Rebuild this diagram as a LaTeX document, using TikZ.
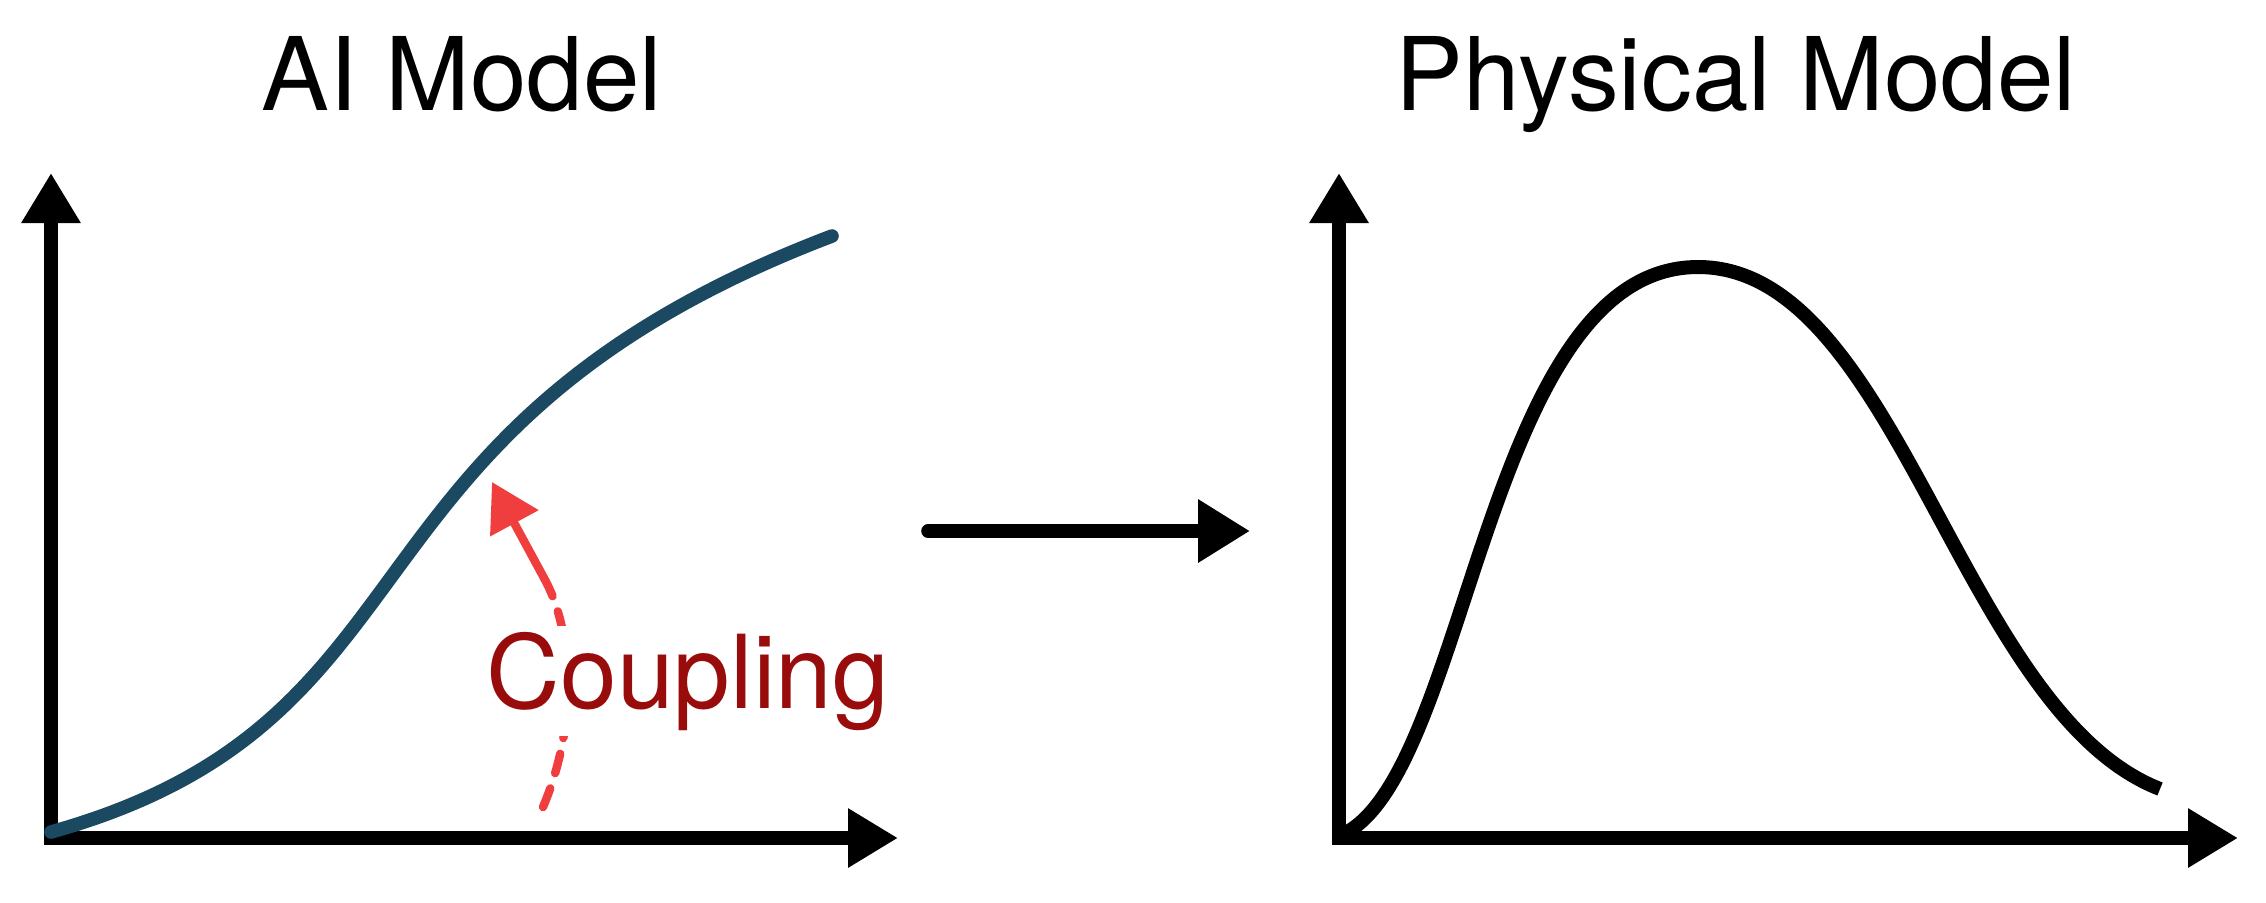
\documentclass[tikz,border=0pt]{standalone}
\usepackage{fontspec}
\setmainfont{TeX Gyre Heros}
\usetikzlibrary{arrows.meta}
\definecolor{curveblue}{RGB}{27,73,98}
\definecolor{arrowred}{RGB}{240,62,62}
\definecolor{textred}{RGB}{152,12,12}
\tikzset{
  axis/.style={line width=6.8pt, line join=miter, {Triangle[length=25pt,width=28pt]}-{Triangle[length=25pt,width=28pt]}},
  title/.style={anchor=base, font=\fontsize{50.8pt}{56pt}\selectfont, text=black, inner sep=0pt},
  aicurve/.style={line width=6.8pt, draw=curveblue, line cap=round, line join=round},
  physcurve/.style={line width=7pt, draw=black, line cap=butt, line join=round},
  couplearrow/.style={line width=4.2pt, draw=arrowred, line cap=round},
  midarrow/.style={line width=6.8pt, line cap=round, -{Triangle[length=26pt,width=30pt]}},
  couplelabel/.style={anchor=base, font=\fontsize{51pt}{57pt}\selectfont, text=textred, fill=white, inner sep=3pt}
}
\begin{document}
\begin{tikzpicture}[x=0.5pt,y=-0.5pt]
\useasboundingbox (0,0) rectangle (2266,902);
% left panel
\coordinate (o1) at (51,838);
\coordinate (y1) at (51,173);
\coordinate (x1) at (898,838);
\draw[axis] (y1) -- (o1) -- (x1);
\coordinate (a0) at (51,832);
\coordinate (a1) at (832,236);
\draw[aicurve] (a0) .. controls (451,720) and (322,430) .. (a1);
% coupling arrow
\coordinate (cs) at (543,807);
\coordinate (cm) at (544,578);
\coordinate (ct) at (492,482);
\draw[couplearrow, dash pattern=on 10pt off 8pt] (cs) .. controls (580,720) and (572,628) .. (cm);
\draw[couplearrow, -{Triangle[length=23.5pt,width=26.5pt]}] (cm) -- (ct);
\node[couplelabel] (coup) at (688,708) {Coupling};
\node[title] (t1) at (462,110) {AI Model};
% middle arrow
\coordinate (m0) at (928,531);
\coordinate (m1) at (1250,531);
\draw[midarrow] (m0) -- (m1);
% right panel
\coordinate (o2) at (1339,838);
\coordinate (y2) at (1339,173);
\coordinate (x2) at (2238,838);
\draw[axis] (y2) -- (o2) -- (x2);
\coordinate (b0) at (1339,836);
\coordinate (bp) at (1698,267);
\coordinate (b1) at (2160,789);
\draw[physcurve] (b0) .. controls (1469,784) and (1483,267) .. (bp)
  .. controls (1898,267) and (1960,711) .. (b1);
\node[title] (t2) at (1736,110) {Physical Model};
\end{tikzpicture}
\end{document}
